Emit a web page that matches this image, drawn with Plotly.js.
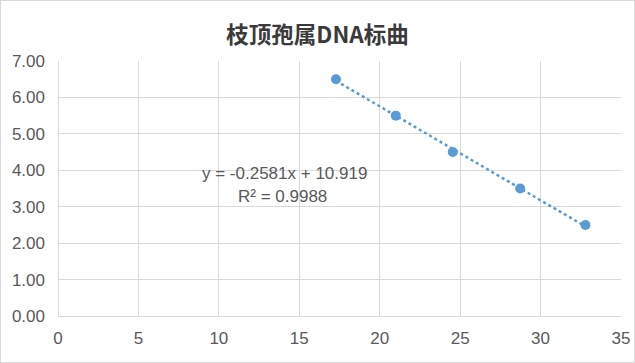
<!DOCTYPE html>
<html><head><meta charset="utf-8">
<script src="https://cdn.plot.ly/plotly-3.0.1.min.js"></script>
<style>
html,body{margin:0;padding:0;background:#fff;}
#chart{width:633px;height:361px;border:1px solid #d9d9d9;}
</style></head>
<body><div id="chart"></div>
<script>
const titleText = '枝顶孢属DNA标曲';
const ctValues = [17.28, 21.0, 24.54, 28.73, 32.79];
const dnaValues = [6.5, 5.5, 4.5, 3.5, 2.5];
const equationText = 'y = -0.2581x + 10.919';
const r2Text = 'R² = 0.9988';

// least-squares trendline from the data
const n = ctValues.length;
const mx = ctValues.reduce((a,b)=>a+b,0)/n;
const my = dnaValues.reduce((a,b)=>a+b,0)/n;
let sxy=0, sxx=0;
for(let i=0;i<n;i++){sxy+=(ctValues[i]-mx)*(dnaValues[i]-my);sxx+=(ctValues[i]-mx)**2;}
const slope = sxy/sxx, icpt = my - slope*mx;
const tx = [Math.min(...ctValues), Math.max(...ctValues)];
const ty = tx.map(v=>slope*v+icpt);

const blue = '#5b9bd5';
const grid = '#d9d9d9';
const tickFont = {family:'Liberation Sans, Arial, sans-serif', size:17, color:'#595959'};

const data = [
  {x:tx, y:ty, mode:'lines', line:{color:blue, width:2.5, dash:'dot'}, hoverinfo:'skip', showlegend:false},
  {x:ctValues, y:dnaValues, mode:'markers', marker:{color:blue, size:10}, showlegend:false}
];
const layout = {
  width:633, height:361,
  margin:{l:57, r:13, t:60, b:46},
  paper_bgcolor:'#fff', plot_bgcolor:'#fff',
  title:{text:titleText, x:0.5, xanchor:'center', y:0.905, yanchor:'middle',
    font:{family:'Noto Sans CJK SC, sans-serif', size:22.5, weight:600, color:'#3a3a3a'}},
  xaxis:{range:[0,35], dtick:5, tick0:0, showgrid:true, gridcolor:grid, gridwidth:1,
    zeroline:true, zerolinecolor:grid, showline:false, ticks:'', ticklabelstandoff:10,
    tickfont:tickFont, fixedrange:true},
  yaxis:{range:[0,7], dtick:1, tick0:0, tickformat:'.2f', showgrid:true, gridcolor:grid, gridwidth:1,
    zeroline:true, zerolinecolor:grid, showline:false, ticks:'', ticklabelstandoff:12,
    tickfont:tickFont, fixedrange:true},
  annotations:[
    {x:14.05, y:3.92, xref:'x', yref:'y', text:equationText, showarrow:false,
     font:{family:'Liberation Sans, Arial, sans-serif', size:17, color:'#595959'}},
    {x:13.93, y:3.27, xref:'x', yref:'y', text:r2Text, showarrow:false,
     font:{family:'Liberation Sans, Arial, sans-serif', size:17, color:'#595959'}}
  ]
};
Plotly.newPlot('chart', data, layout, {displayModeBar:false, staticPlot:true});
</script></body></html>
